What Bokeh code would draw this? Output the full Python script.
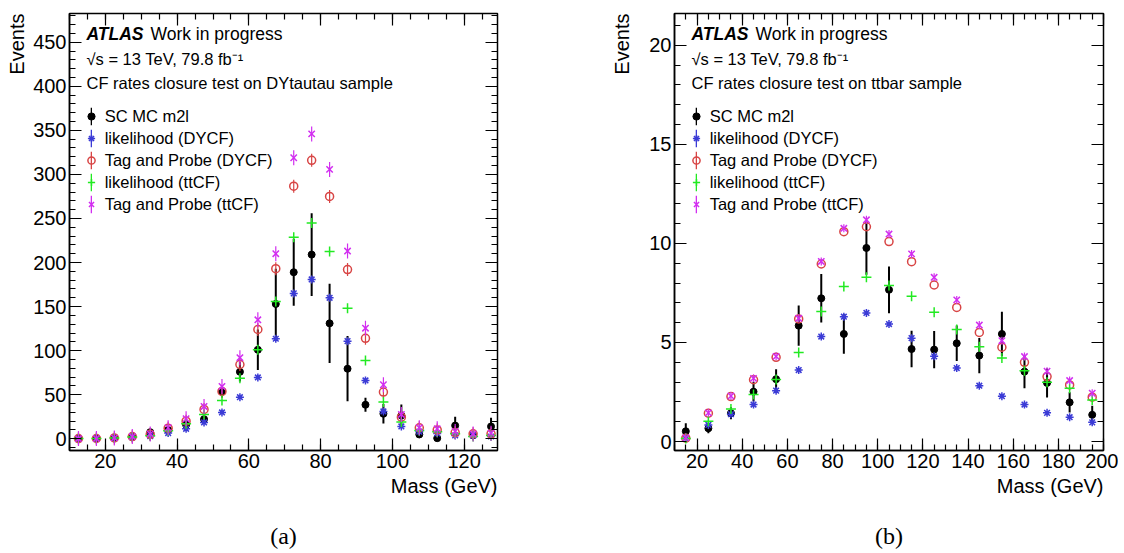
import numpy as np
from bokeh.plotting import figure
from bokeh.models import (ColumnDataSource, Legend, LegendItem, LinearAxis,
                          SingleIntervalTicker, FixedTicker, Range1d, Label, Title)
from bokeh.core.properties import value
from bokeh.layouts import row
from bokeh.embed import file_html
from bokeh.resources import INLINE

FONT = "Liberation Sans"
BLACK = "#000000"
BLUE = "#3b3bd6"
RED = "#d84545"
GREEN = "#22ea22"
MAGENTA = "#d22ef0"

# ---------------- panel (a): DYtautau sample ----------------
mass_a = [12.5, 17.5, 22.5, 27.5, 32.5, 37.5, 42.5, 47.5, 52.5, 57.5, 62.5, 67.5,
          72.5, 77.5, 82.5, 87.5, 92.5, 97.5, 102.5, 107.5, 112.5, 117.5, 122.5, 127.5]
sc_a = [0.2, 0.3, 1.0, 2.0, 7.5, 10.0, 16.0, 22.3, 53.3, 76.0, 101.0, 153.0,
        189.0, 209.0, 131.0, 79.5, 38.6, 28.4, 26.5, 4.9, 0.7, 15.0, 4.0, 14.0]
sc_err_a = [0.3, 0.5, 1.0, 1.5, 2.0, 3.0, 4.0, 5.0, 6.5, 11.0, 23.0, 40.0,
            38.0, 47.0, 45.0, 37.0, 8.0, 11.0, 12.5, 2.0, 1.0, 10.0, 2.0, 10.0]
lh_dy_a = [0.2, 0.3, 1.0, 2.0, 3.0, 6.5, 11.3, 18.5, 29.9, 47.2, 69.6, 113.5,
           165.0, 180.8, 160.0, 110.8, 66.2, 31.0, 14.0, 8.0, 6.0, 3.8, 3.5, 2.6]
tp_dy_a = [0.2, 0.3, 1.0, 2.5, 5.0, 12.0, 20.0, 33.3, 53.7, 84.3, 124.0, 193.0,
           286.7, 316.0, 275.0, 192.0, 114.0, 53.0, 24.5, 12.5, 10.0, 7.0, 5.6, 5.6]
lh_tt_a = [0.2, 0.3, 1.0, 2.0, 3.5, 9.0, 17.0, 27.6, 43.5, 68.8, 101.0, 155.8,
           228.8, 245.0, 212.6, 148.0, 88.9, 41.6, 18.9, 9.4, 8.0, 5.7, 2.6, 3.8]
tp_tt_a = [0.2, 0.3, 1.0, 2.5, 5.5, 12.5, 22.7, 36.7, 59.4, 92.0, 135.0, 210.0,
           318.9, 346.0, 305.7, 213.0, 125.5, 61.3, 27.6, 12.5, 11.3, 8.3, 5.5, 6.4]

# ---------------- panel (b): ttbar sample ----------------
mass_b = [15, 25, 35, 45, 55, 65, 75, 85, 95, 105, 115, 125, 135, 145, 155, 165, 175, 185, 195]
sc_b = [0.52, 0.67, 1.43, 2.52, 3.15, 5.85, 7.23, 5.43, 9.77, 7.66, 4.67, 4.64,
        4.96, 4.34, 5.43, 3.53, 2.96, 1.98, 1.35]
sc_err_b = [0.4, 0.25, 0.3, 0.5, 0.5, 1.02, 1.22, 1.0, 1.35, 1.18, 0.92, 0.94,
            0.9, 0.89, 1.12, 0.84, 0.73, 0.51, 0.46]
lh_dy_b = [0.17, 0.84, 1.38, 1.87, 2.57, 3.61, 5.3, 6.3, 6.49, 5.93, 5.22, 4.3,
           3.71, 2.82, 2.29, 1.87, 1.45, 1.23, 0.97]
tp_dy_b = [0.17, 1.43, 2.27, 3.12, 4.25, 6.19, 8.96, 10.59, 10.84, 10.09, 9.08, 7.9,
           6.77, 5.51, 4.76, 4.0, 3.28, 2.86, 2.24]
lh_tt_b = [0.15, 1.03, 1.65, 2.37, 3.13, 4.5, 6.56, 7.82, 8.29, 7.87, 7.33, 6.52,
           5.65, 4.79, 4.22, 3.58, 2.99, 2.69, 2.1]
tp_tt_b = [0.2, 1.45, 2.3, 3.19, 4.3, 6.22, 9.09, 10.76, 11.19, 10.47, 9.47, 8.29,
           7.15, 5.88, 5.09, 4.29, 3.55, 3.08, 2.44]

legend_labels = ["SC MC m2l", "likelihood (DYCF)", "Tag and Probe (DYCF)",
                 "likelihood (ttCF)", "Tag and Probe (ttCF)"]

FRAME_H = 437


def tick_style(ax):
    ax.axis_line_width = 1.5
    ax.axis_line_color = "black"
    ax.major_tick_in = 12
    ax.major_tick_out = 0
    ax.minor_tick_in = 6
    ax.minor_tick_out = 0
    ax.major_tick_line_width = 1.2
    ax.minor_tick_line_width = 1.2
    ax.major_label_text_font = FONT
    ax.major_label_text_font_size = "20px"
    ax.major_label_text_color = "black"
    ax.major_label_standoff = 3


def text_axis(text, standoff, size="20px", font=FONT):
    ax = LinearAxis(ticker=FixedTicker(ticks=[]), axis_label=text,
                    axis_line_alpha=0, major_tick_out=0, major_tick_in=0,
                    minor_tick_out=0, minor_tick_in=0, major_label_standoff=0,
                    axis_label_standoff=standoff, axis_label_text_font=font,
                    axis_label_text_font_size=size,
                    axis_label_text_font_style="normal",
                    axis_label_text_color="black")
    return ax


def side_title(text, standoff):
    return Title(text=text, align="right", vertical_align="middle", offset=0,
                 standoff=standoff, text_font=FONT, text_font_size="20px",
                 text_font_style="normal", text_color="black")


def mirror_axis(minors, length):
    # tick-only axis (no labels) for the opposite frame sides
    ax = LinearAxis(ticker=FixedTicker(ticks=[], minor_ticks=list(minors)),
                    axis_line_alpha=0, major_tick_out=0, major_tick_in=0,
                    minor_tick_out=0, minor_tick_in=length,
                    minor_tick_line_width=1.2, minor_tick_line_color="black",
                    major_label_standoff=0)
    return ax


def make_panel(mass, sc, sc_err, lh_dy, tp_dy, lh_tt, tp_tt, xr, yr, ystep,
               x_major, x_minor, y_major, y_minor,
               sample, caption, fw, bl, br, bar_tp_dy, bar_tp_tt, ev_standoff):
    p = figure(frame_width=fw, frame_height=FRAME_H, min_border_left=bl,
               min_border_right=br, min_border_top=13, min_border_bottom=100,
               x_range=Range1d(*xr), y_range=Range1d(*yr),
               x_axis_type=None, y_axis_type=None,
               output_backend="svg", toolbar_location=None, tools="")
    p.outline_line_color = "black"
    p.outline_line_width = 1.5
    p.background_fill_color = "white"
    p.border_fill_color = "white"

    xt = SingleIntervalTicker(interval=20, num_minor_ticks=4)
    yt = SingleIntervalTicker(interval=ystep, num_minor_ticks=5)
    ax_b = LinearAxis(ticker=xt)
    tick_style(ax_b)
    p.add_layout(ax_b, "below")
    p.add_layout(side_title("Mass (GeV)", 6), "below")
    p.add_layout(text_axis(caption, 22, size="24px", font="Liberation Serif"), "below")
    ax_l = LinearAxis(ticker=yt)
    tick_style(ax_l)
    p.add_layout(ax_l, "left")
    p.add_layout(side_title("Events", ev_standoff), "left")
    p.add_layout(mirror_axis(x_major, 12), "above")
    p.add_layout(mirror_axis(x_minor, 6), "above")
    p.add_layout(mirror_axis(y_major, 12), "right")
    p.add_layout(mirror_axis(y_minor, 6), "right")

    src = ColumnDataSource(dict(
        x=mass, sc=sc,
        lo=[v - e for v, e in zip(sc, sc_err)],
        hi=[v + e for v, e in zip(sc, sc_err)],
        lh_dy=lh_dy, tp_dy=tp_dy, lh_tt=lh_tt, tp_tt=tp_tt))

    p.segment(x0="x", y0="lo", x1="x", y1="hi", source=src,
              line_color=BLACK, line_width=2)
    r_sc = p.scatter("x", "sc", source=src, marker="circle", size=7,
                     fill_color=BLACK, line_color=BLACK)
    r_lhdy = p.scatter("x", "lh_dy", source=src, marker="asterisk", size=8,
                       line_color=BLUE, line_width=1.5)
    if bar_tp_dy:
        p.scatter("x", "tp_dy", source=src, marker="dash", angle=np.pi / 2,
                  size=bar_tp_dy, line_color=RED, line_width=1.2)
    r_tpdy = p.scatter("x", "tp_dy", source=src, marker="circle", size=8,
                       fill_color=None, line_color=RED, line_width=1.5)
    r_lhtt = p.scatter("x", "lh_tt", source=src, marker="cross", size=10,
                       line_color=GREEN, line_width=1.5)
    if bar_tp_tt:
        p.scatter("x", "tp_tt", source=src, marker="dash", angle=np.pi / 2,
                  size=bar_tp_tt, line_color=MAGENTA, line_width=1.2)
    r_tptt = p.scatter("x", "tp_tt", source=src, marker="x", size=9,
                       line_color=MAGENTA, line_width=1.5)

    # legend: vertical error-bar strokes + markers with text
    colors = [BLACK, BLUE, RED, GREEN, MAGENTA]
    cols = ["sc", "lh_dy", "tp_dy", "lh_tt", "tp_tt"]
    bar_items = []
    for c, col in zip(colors, cols):
        rb = p.rect(x="x", y=col, width=0, height=0, source=src,
                    fill_color=c, line_color=None)
        bar_items.append(LegendItem(label=value(""), renderers=[rb]))
    leg_bars = Legend(items=bar_items, location=(20.7, 235), glyph_width=2,
                      glyph_height=22, label_height=22, label_width=0,
                      label_standoff=0, spacing=0, padding=0, margin=0,
                      label_text_font_size="17px",
                      border_line_alpha=0, background_fill_alpha=0)
    p.add_layout(leg_bars)
    marker_items = [LegendItem(label=l, renderers=[r]) for l, r in
                    zip(legend_labels, [r_sc, r_lhdy, r_tpdy, r_lhtt, r_tptt])]
    leg = Legend(items=marker_items, location=(12.7, 235), glyph_width=18,
                 glyph_height=22, label_height=22, spacing=0, padding=0, margin=0,
                 label_standoff=5, label_text_font=FONT,
                 label_text_font_size="16.5px", label_text_color="black",
                 border_line_alpha=0, background_fill_alpha=0)
    p.add_layout(leg)

    def lab(text, x, y, size="16.5px", style="normal"):
        p.add_layout(Label(x=x, y=y, x_units="screen", y_units="screen", text=text,
                           text_font=FONT, text_font_size=size,
                           text_font_style=style, text_align="left",
                           text_baseline="middle", text_color="black"))

    lab("ATLAS", 17, 417, size="17.5px", style="bold italic")
    lab("Work in progress", 81, 417, size="17.5px")
    lab("\u221as = 13 TeV, 79.8 fb\u207b\u00b9", 17, 392)
    lab("CF rates closure test on " + sample + " sample", 17, 368)
    return p


pa = make_panel(mass_a, sc_a, sc_err_a, lh_dy_a, tp_dy_a, lh_tt_a, tp_tt_a,
                (10, 129.3), (-13.3, 482.6), 50,
                np.arange(20, 121, 20), np.arange(10, 130, 5),
                np.arange(0, 451, 50), np.arange(-10, 481, 10),
                "DYtautau", "(a)", 428, 69, 51, 13, 15, 3)
pb = make_panel(mass_b, sc_b, sc_err_b, lh_dy_b, tp_dy_b, lh_tt_b, tp_tt_b,
                (10, 200), (-0.45, 21.6), 5,
                np.arange(20, 201, 20), np.arange(10, 201, 5),
                np.arange(0, 21, 5), np.arange(0, 22, 1),
                "ttbar", "(b)", 429, 126, 15, 0, 8, 26)

layout = row(pa, pb)
open("out.html", "w").write(file_html(layout, INLINE))
